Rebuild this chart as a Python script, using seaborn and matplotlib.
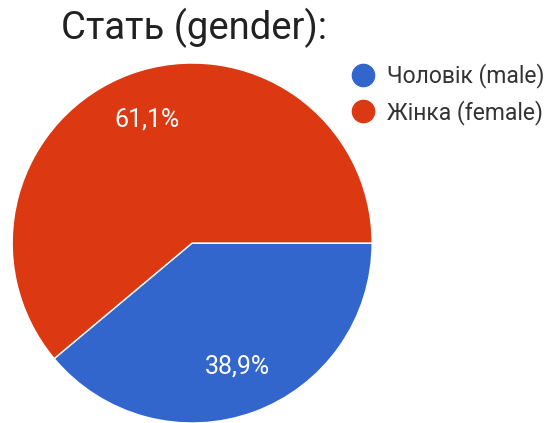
import matplotlib
matplotlib.use("Agg")
import matplotlib.pyplot as plt
from matplotlib.lines import Line2D
import seaborn as sns

# data
labels = ["Чоловік (male)", "Жінка (female)"]
shares = [38.9, 61.1]
colors = ["#3366cc", "#dc3912"]

sns.set_style("white")
plt.rcParams["font.family"] = ["Roboto", "DejaVu Sans"]

fig = plt.figure(figsize=(5.49, 4.23), dpi=100)
ax = fig.add_axes([0.022, 0.0, 0.656, 0.851])

wedges, _, autotexts = ax.pie(
    shares, colors=colors, startangle=0, counterclock=False,
    autopct=lambda p: f"{p:.1f}%".replace(".", ","), pctdistance=0.73,
    wedgeprops=dict(edgecolor="white", linewidth=1.0),
    textprops=dict(color="white", fontsize=18),
)
ax.set_xlim(-1, 1)
ax.set_ylim(-1, 1)
ax.set_aspect("equal")

fig.text(61 / 549, 1 - 39 / 423, "Стать (gender):", fontsize=27.5, color="#212121",
         ha="left", va="baseline")

handles = [Line2D([], [], marker="o", linestyle="", markersize=16,
                  markerfacecolor=c, markeredgecolor=c) for c in colors]
fig.legend(handles, labels, loc="upper left", bbox_to_anchor=(351.5 / 549, 1 - 63.5 / 423),
           frameon=False, fontsize=16.5, labelcolor="#333333", handletextpad=0.55,
           labelspacing=0.49, borderaxespad=0, borderpad=0, handlelength=1.0)

fig.savefig("out.png", dpi=100)
